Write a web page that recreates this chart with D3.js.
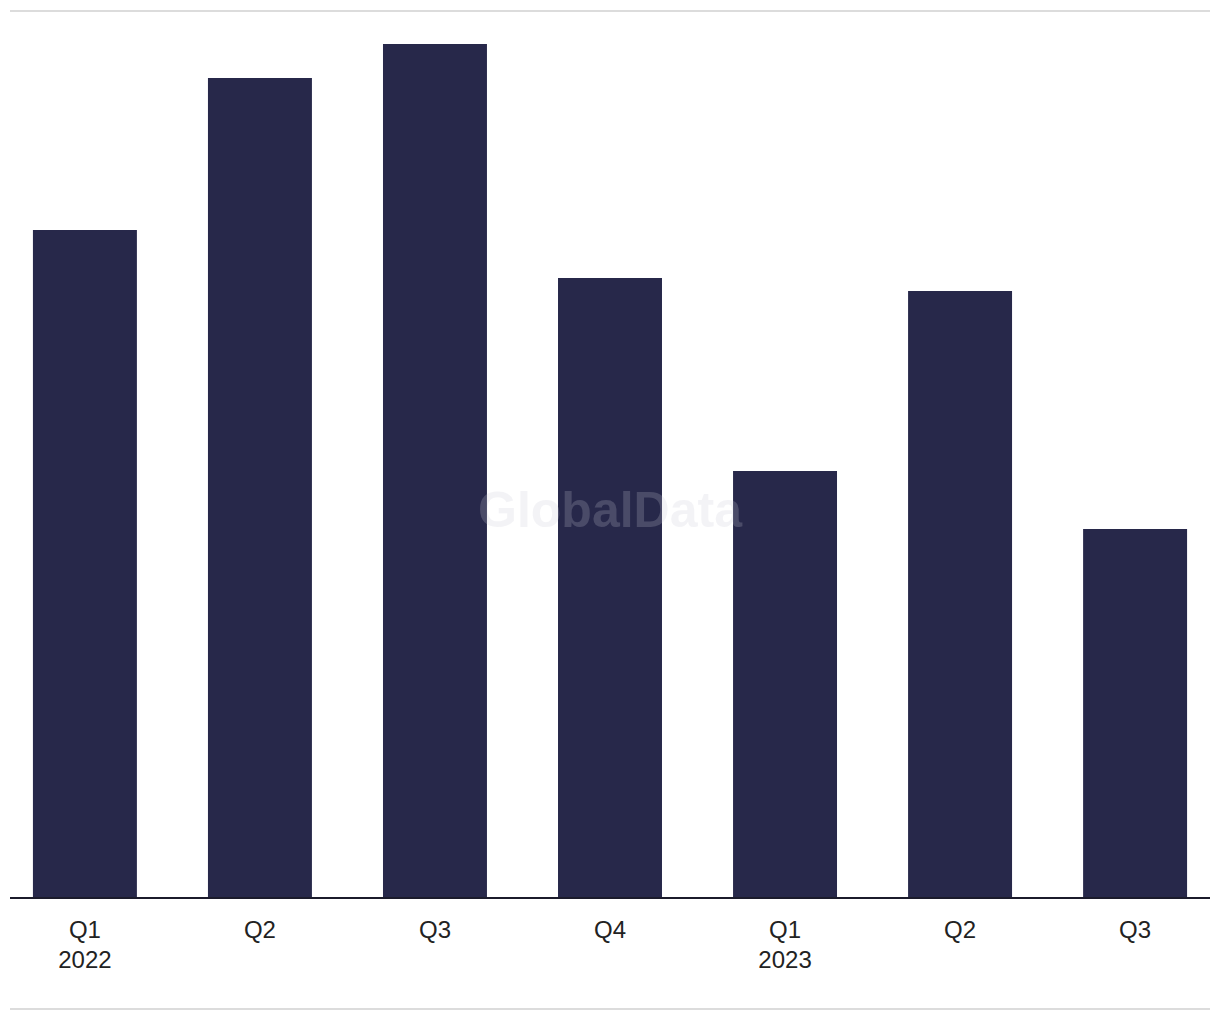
<!DOCTYPE html>
<html>
<head>
<meta charset="utf-8">
<script src="https://cdn.jsdelivr.net/npm/d3@7"></script>
<style>
html,body{margin:0;padding:0;background:#fff;}
svg{display:block;}
</style>
</head>
<body>
<svg id="chart" width="1220" height="1020"></svg>
<script>
const quarters = ["Q1", "Q2", "Q3", "Q4", "Q1", "Q2", "Q3"];
const years = ["2022", "", "", "", "2023", "", ""];
const values = [668, 820, 854, 620, 427, 607, 369];
const keys = quarters.map((q, i) => i);

const svg = d3.select("#chart");
const plotLeft = 10, plotRight = 1210, plotBase = 898, plotTop = 11;

const x = d3.scaleBand().domain(keys).range([plotLeft, plotRight]).paddingInner(0.406).paddingOuter(0.131);
const y = d3.scaleLinear().domain([0, 887]).range([plotBase, plotTop]);

// top and bottom rules
svg.append("line").attr("x1", plotLeft).attr("x2", plotRight).attr("y1", 11).attr("y2", 11)
  .attr("stroke", "#dcdcdc").attr("stroke-width", 2);
svg.append("line").attr("x1", plotLeft).attr("x2", plotRight).attr("y1", 1009).attr("y2", 1009)
  .attr("stroke", "#dcdcdc").attr("stroke-width", 2);

svg.append("g").selectAll("rect").data(values).join("rect")
  .attr("x", (d, i) => x(i))
  .attr("width", x.bandwidth())
  .attr("y", d => y(d))
  .attr("height", d => plotBase - y(d))
  .attr("fill", "#27284a");

// axis
const axis = svg.append("g").attr("transform", `translate(0,${plotBase})`)
  .call(d3.axisBottom(x).tickSize(0).tickFormat(() => ""));
axis.select(".domain").attr("stroke", "#1b1b2b").attr("stroke-width", 2)
  .attr("d", `M${plotLeft},0H${plotRight}`);
axis.selectAll(".tick").each(function(d) {
  const t = d3.select(this).append("text").attr("fill", "#222")
    .attr("font-family", "'Liberation Sans', Arial, sans-serif").attr("font-size", 24)
    .attr("text-anchor", "middle");
  t.append("tspan").attr("x", 0).attr("y", 40).text(quarters[d]);
  if (years[d]) t.append("tspan").attr("x", 0).attr("y", 70).text(years[d]);
});

// watermark
svg.append("text").attr("x", 610).attr("y", 527).attr("text-anchor", "middle")
  .attr("font-family", "'Liberation Sans', Arial, sans-serif").attr("font-weight", 700)
  .attr("font-size", 50).attr("fill", "#cacad4").attr("fill-opacity", 0.22)
  .text("GlobalData");
</script>
</body>
</html>
